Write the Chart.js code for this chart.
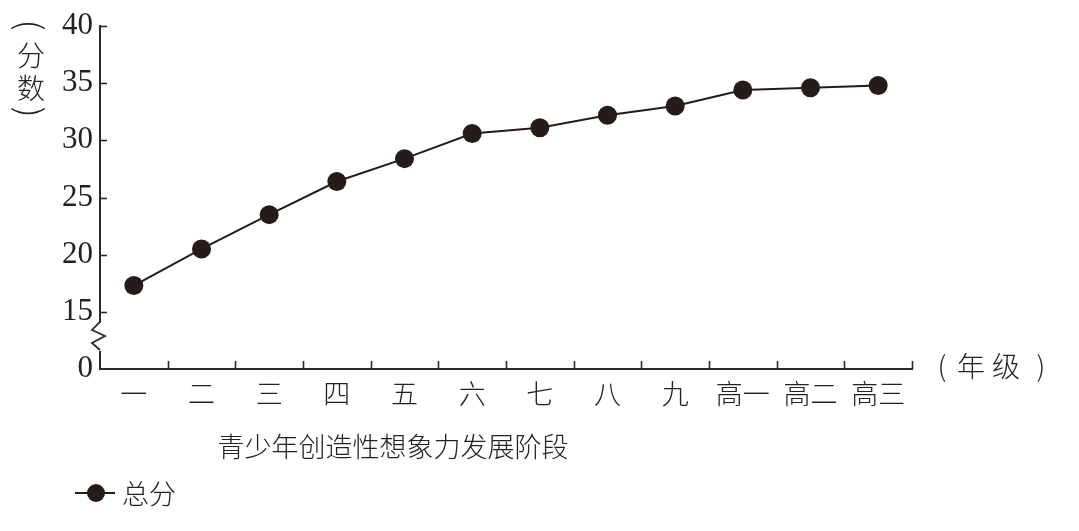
<!DOCTYPE html>
<html><head><meta charset="utf-8">
<script src="https://cdn.jsdelivr.net/npm/chart.js@4/dist/chart.umd.min.js"></script>
<style>html,body{margin:0;padding:0;background:#fff}#wrap{width:1079px;height:531px;position:relative}</style>
</head><body><div id="wrap"><canvas id="c" width="1079" height="531"></canvas></div>
<script>
const categories = ['一','二','三','四','五','六','七','八','九','高一','高二','高三'];
const totalScores = [17.3, 20.5, 23.5, 26.4, 28.4, 30.6, 31.1, 32.2, 33.0, 34.4, 34.6, 34.8];
const seriesName = '总分';
const yTickValues = [10, 15, 20, 25, 30, 35, 40];
const yTickLabels = ['0', '15', '20', '25', '30', '35', '40'];
const xAxisTitle = '青少年创造性想象力发展阶段';
const xUnitChars = ['(', '年', '级', ')'];
const yUnitChars = ['分', '数'];

const INK = '#251b18';
const CJK = '"Noto Sans CJK SC", "Noto Sans", sans-serif';

const decor = {
  id: 'decor',
  afterDraw(chart) {
    const ctx = chart.ctx;
    const xs = chart.scales.x, ys = chart.scales.y;
    const L = xs.left, B = ys.bottom;
    ctx.save();
    ctx.strokeStyle = '#2a2a2a';
    ctx.lineWidth = 1.6;
    // y tick marks (inward)
    yTickValues.forEach(v => {
      if (v === yTickValues[0]) return;
      const y = Math.round(ys.getPixelForValue(v)) + 0.5;
      ctx.beginPath(); ctx.moveTo(L, y); ctx.lineTo(L + 7, y); ctx.stroke();
    });
    // x tick marks at category boundaries (inward)
    for (let i = 1; i <= categories.length; i++) {
      const x = Math.round(xs.getPixelForValue(i - 0.5)) + 0.5;
      ctx.beginPath(); ctx.moveTo(x, B); ctx.lineTo(x, B - 8); ctx.stroke();
    }
    // axis break
    const yb = ys.getPixelForValue(12.8);
    ctx.fillStyle = '#fff';
    ctx.fillRect(L - 3, yb - 14, 6, 28);
    ctx.lineWidth = 1.8;
    ctx.beginPath();
    ctx.moveTo(L, yb - 15);
    ctx.lineTo(L - 8, yb - 7);
    ctx.lineTo(L + 5, yb - 1);
    ctx.lineTo(L - 8, yb + 6);
    ctx.lineTo(L, yb + 13);
    ctx.stroke();

    ctx.fillStyle = '#222';
    ctx.textBaseline = 'middle';
    ctx.textAlign = 'center';
    ctx.font = '300 27px ' + CJK;
    // x axis title
    ctx.fillText(xAxisTitle, 393, 447);
    // x unit "(年级)"
    ctx.font = '300 28px ' + CJK;
    const xuPos = [942, 971, 1006, 1041];
    xUnitChars.forEach((c, i) => ctx.fillText(c, xuPos[i], 366));
    // y unit vertical "(分数)"
    ctx.fillText(yUnitChars[0], 31, 55);
    ctx.fillText(yUnitChars[1], 31, 88);
    ctx.font = '300 34px ' + CJK;
    ctx.save(); ctx.translate(31, 25); ctx.rotate(Math.PI / 2); ctx.fillText('(', 0, 0); ctx.restore();
    ctx.save(); ctx.translate(31, 112); ctx.rotate(Math.PI / 2); ctx.fillText(')', 0, 0); ctx.restore();
    // legend
    ctx.strokeStyle = INK; ctx.lineWidth = 2;
    ctx.beginPath(); ctx.moveTo(75, 493); ctx.lineTo(115, 493); ctx.stroke();
    ctx.fillStyle = INK;
    ctx.beginPath(); ctx.arc(96, 493, 9, 0, Math.PI * 2); ctx.fill();
    ctx.fillStyle = '#222';
    ctx.textAlign = 'left';
    ctx.font = '300 27px ' + CJK;
    ctx.fillText(seriesName, 122, 494);
    ctx.restore();
  }
};

new Chart(document.getElementById('c').getContext('2d'), {
  type: 'line',
  data: {
    labels: categories,
    datasets: [{
      label: seriesName,
      data: totalScores,
      borderColor: INK,
      borderWidth: 2,
      pointRadius: 9.5,
      pointBackgroundColor: INK,
      pointBorderColor: INK,
      pointBorderWidth: 0,
      tension: 0
    }]
  },
  options: {
    responsive: false,
    animation: false,
    devicePixelRatio: 1,
    layout: { padding: { left: 0, right: 167, top: 26, bottom: 0 } },
    plugins: { legend: { display: false }, tooltip: { enabled: false } },
    scales: {
      x: {
        type: 'category',
        offset: true,
        grid: { display: false, drawTicks: false },
        border: { display: true, color: '#2a2a2a', width: 2 },
        ticks: { color: '#222', font: { family: CJK, size: 27, weight: 300 }, padding: 9, maxRotation: 0, autoSkip: false },
        afterFit: s => { s.height = 162; }
      },
      y: {
        type: 'linear',
        min: 10,
        max: 40,
        afterBuildTicks: s => { s.ticks = yTickValues.map(v => ({ value: v })); },
        grid: { display: false, drawTicks: false },
        border: { display: true, color: '#2a2a2a', width: 2 },
        ticks: {
          color: '#222',
          font: { family: '"Liberation Serif", serif', size: 31 },
          padding: 7,
          callback: v => { const i = yTickValues.indexOf(v); return i >= 0 ? yTickLabels[i] : ''; }
        },
        afterFit: s => { s.width = 100; }
      }
    }
  },
  plugins: [decor]
});
</script>
</body></html>
